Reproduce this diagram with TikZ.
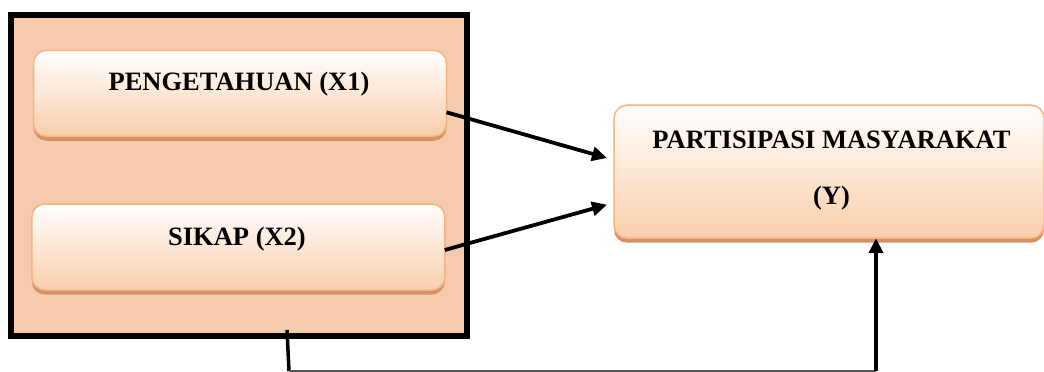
\documentclass[tikz,border=0pt]{standalone}
\usepackage{fontspec}
\setmainfont{Liberation Serif}
\usetikzlibrary{arrows.meta,shadows}
\definecolor{outerfill}{HTML}{F6CBAD}
\definecolor{boxborder}{HTML}{F5B482}
\definecolor{boxbottom}{HTML}{F9CEAB}
\definecolor{boxshadow}{HTML}{D39165}
\definecolor{thinline}{HTML}{555555}
\tikzset{
  frame/.style={draw=black, line width=5.7pt, fill=outerfill, minimum width=456pt, minimum height=321.5pt, inner sep=0pt, outer sep=0pt},
  gbox/.style={draw=boxborder, line width=1.5pt, rounded corners=13pt, top color=white, bottom color=boxbottom,
     inner sep=0pt, outer sep=0pt,
     drop shadow={shadow xshift=0pt, shadow yshift=-4.5pt, fill=boxshadow, opacity=1}},
  lbl/.style={font=\bfseries\fontsize{26.5}{30}\selectfont, anchor=base, inner sep=0pt},
  conn/.style={draw=black, line width=3.8pt, -{Triangle[length=15pt,width=14pt]}},
  plain/.style={draw=black, line width=3.5pt},
  thin/.style={draw=thinline, line width=1.4pt}
}
\begin{document}
\begin{tikzpicture}[x=1pt,y=-1pt]
\useasboundingbox (0,0) rectangle (1044,372);
\node[frame] (frame) at (239.2,175.5) {};
\node[gbox, minimum width=413pt, minimum height=86pt] (x1) at (240,93.3) {};
\node[gbox, minimum width=413pt, minimum height=86pt] (x2) at (238.3,247) {};
\node[gbox, minimum width=430pt, minimum height=133pt] (y) at (829,171.7) {};
\node[lbl] (t1) at (239,90) {PENGETAHUAN (X1)};
\node[lbl] (t2) at (237,245) {SIKAP (X2)};
\node[lbl] (ty1) at (831.5,148.3) {PARTISIPASI MASYARAKAT};
\node[lbl] (ty2) at (831.5,204) {(Y)};
\draw[conn] ([yshift=-19pt]x1.east) -- ([xshift=-7pt,yshift=13.7pt]y.west);
\draw[conn] ([yshift=-3pt]x2.east) -- ([xshift=-7pt,yshift=-33pt]y.west);
\coordinate (b0) at (287,330);
\coordinate (b1) at (289,371);
\coordinate (b2) at (876,371);
\draw[plain] (b0) -- (b1);
\draw[thin] (b1) -- (b2);
\draw[conn] (b2) -- (b2 |- y.south);
\end{tikzpicture}
\end{document}
